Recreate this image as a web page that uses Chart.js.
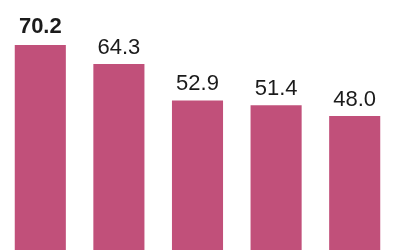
<!DOCTYPE html>
<html>
<head>
<meta charset="utf-8">
<script src="https://cdn.jsdelivr.net/npm/chart.js@4/dist/chart.umd.min.js"></script>
<style>
  html, body { margin: 0; padding: 0; background: #fff; overflow: hidden; }
  #wrap { width: 400px; height: 250px; }
</style>
</head>
<body>
<div id="wrap"><canvas id="myChart" width="400" height="250"></canvas></div>
<script>
var categories = ['A', 'B', 'C', 'D', 'E'];
var values = [70.2, 64.3, 52.9, 51.4, 48.0];
var valueLabels = ['70.2', '64.3', '52.9', '51.4', '48.0'];
var boldIndex = 0;

var ctx = document.getElementById("myChart").getContext("2d");

// value text above each bar
var barLabels = {
  id: 'barLabels',
  afterDatasetsDraw: function(chart) {
    var c = chart.ctx;
    var meta = chart.getDatasetMeta(0);
    c.save();
    c.fillStyle = '#1b1b1b';
    c.textAlign = 'center';
    c.textBaseline = 'alphabetic';
    meta.data.forEach(function(bar, i) {
      var bold = i === boldIndex;
      c.font = (bold ? 'bold ' : '') + '22px "Liberation Sans", Arial, sans-serif';
      c.fillText(valueLabels[i], bar.x, bar.y - (bold ? 12 : 10));
    });
    c.restore();
  }
};

var myChart = new Chart(ctx, {
  type: 'bar',
  data: {
    labels: categories,
    datasets: [{
      data: values,
      backgroundColor: '#c1507a',
      borderWidth: 0,
      barPercentage: 0.65,
      categoryPercentage: 1
    }]
  },
  options: {
    responsive: false,
    animation: false,
    layout: { padding: { left: 1, right: 6, top: 0, bottom: 0 } },
    plugins: {
      legend: { display: false },
      tooltip: { enabled: false }
    },
    scales: {
      x: { display: false },
      y: { display: false, min: 6.1, max: 84.3 }
    }
  },
  plugins: [barLabels]
});
</script>
</body>
</html>
